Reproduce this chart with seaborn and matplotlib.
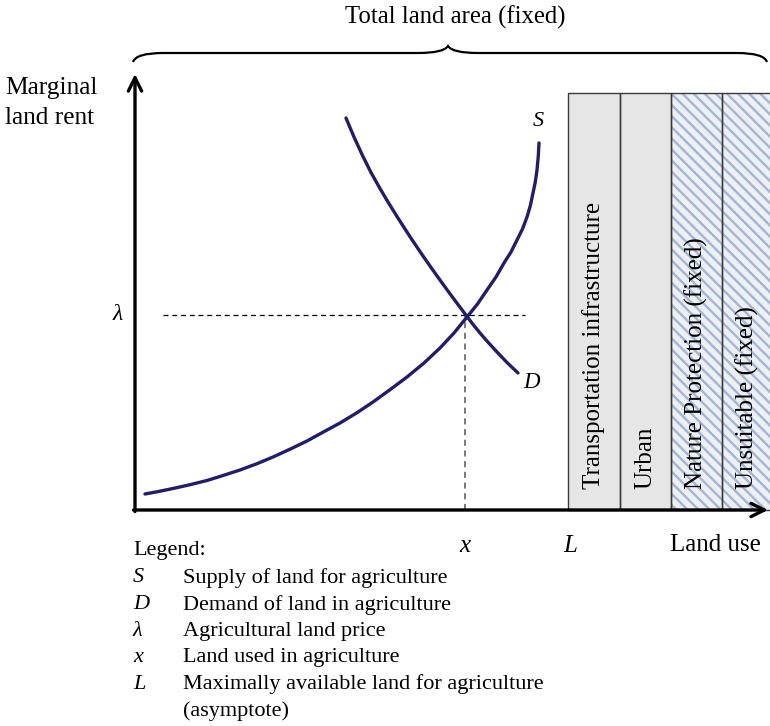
import numpy as np
import pandas as pd
import seaborn as sns
import matplotlib
matplotlib.use("Agg")
import matplotlib.pyplot as plt
from matplotlib.path import Path
from matplotlib.patches import PathPatch

# ---------------- data (conceptual units) ----------------
supply_x = [10, 24, 38, 55, 72, 88, 105, 122, 138, 155, 172, 188, 205, 222, 238, 255,
            272, 289, 305, 319, 332, 342.5, 352, 361, 369, 376, 382, 387.5, 392, 395.5, 398, 400.3, 402, 403.3, 404]
supply_y = [16, 18.6, 21.5, 25.3, 29.5, 34.5, 40, 46.3, 53, 60.8, 69, 77.8, 87, 97.3, 108, 120.3,
            133, 147, 162, 177, 193, 206, 220, 233, 247, 258, 270, 281, 293, 305, 317, 328, 340, 354, 367]
demand_x = [211, 219, 228, 236, 245, 253, 262, 270, 278, 287, 295, 303, 312, 322, 332, 338, 345, 353, 362, 372, 383]
demand_y = [392, 373, 353.5, 337.5, 321.5, 308, 293.5, 281, 268.8, 255.5, 244, 232.7, 220.3, 206.8,
            193.5, 185.6, 177, 167.8, 158, 147.5, 137]
eq_x = 330          # land used in agriculture (x)
eq_price = 195      # agricultural land price (lambda)
L_value = 433       # maximally available land

land_uses = ["Transportation infrastructure", "Urban",
             "Nature Protection (fixed)", "Unsuitable (fixed)"]
land_widths = [52, 51, 51, 51]
land_hatched = [False, False, True, True]
bar_height = 417

legend_symbols = ["S", "D", "λ", "x", "L"]
legend_texts = ["Supply of land for agriculture", "Demand of land in agriculture",
                "Agricultural land price", "Land used in agriculture",
                "Maximally available land for agriculture\n(asymptote)"]

# ---------------- style ----------------
sns.set_theme(style="white")
plt.rcParams["font.family"] = ["Liberation Serif", "DejaVu Serif"]
plt.rcParams["text.color"] = "black"
plt.rcParams["hatch.linewidth"] = 1.7
FS = 16.0
curve_col = "#221c6b"

fig = plt.figure(figsize=(7.7, 7.26), dpi=100)
ax = fig.add_axes([0, 0, 1, 1])

# ---------------- land-use bars ----------------
lefts = L_value + np.concatenate([[0], np.cumsum(land_widths)[:-1]])
df_bars = pd.DataFrame({"use": land_uses, "left": lefts, "width": land_widths,
                        "hatched": land_hatched})
for _, r in df_bars.iterrows():
    if r.hatched:
        ax.bar(r.left, bar_height, width=r.width, align="edge", color="#efefef",
               edgecolor="#9fb6dc", hatch="\\\\\\", linewidth=0, zorder=1)
    else:
        ax.bar(r.left, bar_height, width=r.width, align="edge", color="#e6e6e6",
               linewidth=0, zorder=1)
    ax.bar(r.left, bar_height, width=r.width, align="edge", fill=False,
           edgecolor="#3a3a3a", linewidth=1.0, zorder=2)
    ax.text(r.left + r.width / 2, 21, r.use, rotation=90, rotation_mode="anchor",
            ha="left", va="center", fontsize=18, zorder=3)

# ---------------- curves ----------------
df_s = pd.DataFrame({"x": supply_x, "y": supply_y})
df_d = pd.DataFrame({"x": demand_x, "y": demand_y})
sns.lineplot(data=df_s, x="x", y="y", sort=False, color=curve_col, lw=2.4, ax=ax, zorder=4)
sns.lineplot(data=df_d, x="x", y="y", sort=False, color=curve_col, lw=2.4, ax=ax, zorder=4)
ax.axis("off")
ax.set_xlim(-135, 635)
ax.set_ylim(-216, 510)

# dashed guides
ax.plot([28, 390], [eq_price, eq_price], color="black", lw=0.9, ls=(0, (4, 3)), zorder=3)
ax.plot([eq_x, eq_x], [0, eq_price], color="#555555", lw=1.1, ls=(0, (4, 3)), zorder=3)

# axes with arrows
ax.annotate("", xy=(0, 436), xytext=(0, -1.5),
            arrowprops=dict(arrowstyle="->", lw=2.4, color="black", mutation_scale=24,
                            shrinkA=0, shrinkB=0), zorder=5)
ax.annotate("", xy=(633, 0), xytext=(-1.5, 0),
            arrowprops=dict(arrowstyle="->", lw=2.4, color="black", mutation_scale=24,
                            shrinkA=0, shrinkB=0), zorder=5)

# brace over total land area
xl, xr = -2, 632
xm = (xl + xr) / 2 - 2
yb, yf, yp = 448, 457, 464
verts = [(xl, yb), (xl + 3, yf), (xl + 30, yf),
         (xm - 30, yf),
         (xm - 4, yf), (xm, yp),
         (xm + 4, yf), (xm + 30, yf),
         (xr - 30, yf),
         (xr - 3, yf), (xr, yb)]
codes = [Path.MOVETO, Path.CURVE3, Path.CURVE3,
         Path.LINETO,
         Path.CURVE3, Path.CURVE3,
         Path.CURVE3, Path.CURVE3,
         Path.LINETO,
         Path.CURVE3, Path.CURVE3]
ax.add_patch(PathPatch(Path(verts, codes), fill=False, lw=1.6, edgecolor="black"))
ax.text(320, 493, "Total land area (fixed)", ha="center", va="center", fontsize=17.8)

# labels
ax.text(-130, 422, "Marginal", ha="left", va="center", fontsize=18.3)
ax.text(-130, 392, "land rent", ha="left", va="center", fontsize=18.3)
ax.text(-17, eq_price, "λ", ha="center", va="center", fontsize=17, style="italic")
ax.text(403, 388, "S", ha="center", va="center", fontsize=16, style="italic")
ax.text(397, 128, "D", ha="center", va="center", fontsize=16.5, style="italic")
ax.text(eq_x, -36, "x", ha="center", va="center", fontsize=18, style="italic")
ax.text(L_value + 2, -36, "L", ha="center", va="center", fontsize=18, style="italic")
ax.text(580, -35, "Land use", ha="center", va="center", fontsize=18)

# legend block
ax.text(-2, -40, "Legend:", ha="left", va="center", fontsize=FS)
row_y = -68
for sym, txt in zip(legend_symbols, legend_texts):
    ax.text(-2, row_y, sym, ha="left", va="center", fontsize=FS, style="italic")
    lines = txt.split("\n")
    for k, ln in enumerate(lines):
        ax.text(48, row_y - 26.6 * k, ln, ha="left", va="center", fontsize=FS)
    row_y -= 26.6

fig.savefig("out.png", dpi=100)
